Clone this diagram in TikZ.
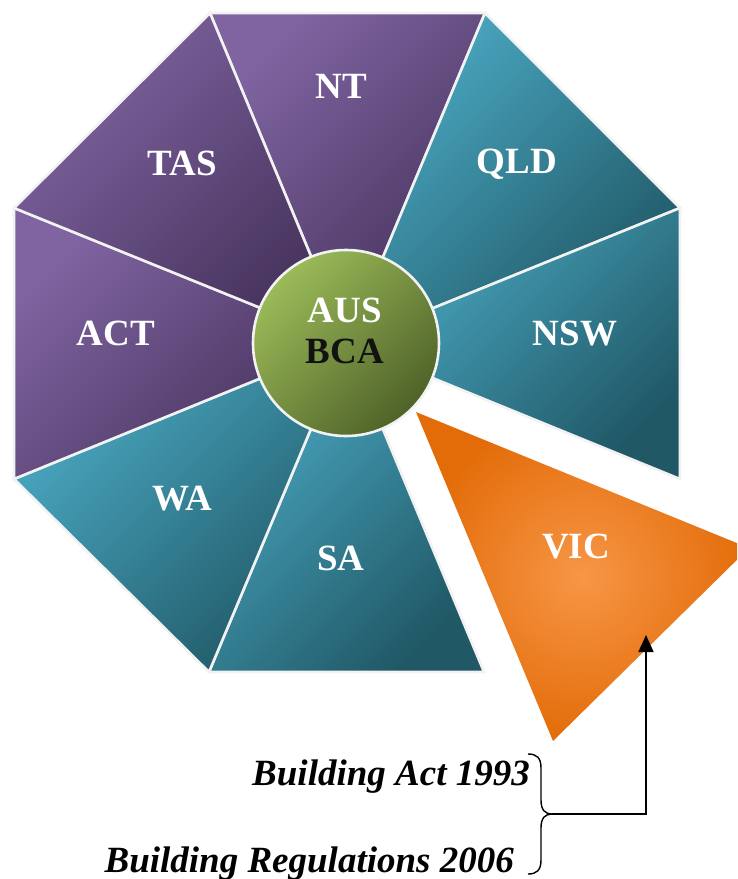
\documentclass[tikz,border=0pt]{standalone}
\usepackage{fontspec}
\setmainfont{Liberation Serif}
\usetikzlibrary{arrows.meta}
\definecolor{purpleL}{HTML}{8064A2}
\definecolor{purpleD}{HTML}{45325A}
\definecolor{aquaL}{HTML}{4BAAC4}
\definecolor{aquaD}{HTML}{205866}
\definecolor{oliveL}{HTML}{9BBB59}
\definecolor{oliveD}{HTML}{4F6228}
\definecolor{orangeL}{HTML}{F79646}
\definecolor{orangeD}{HTML}{E36C09}
\definecolor{sepline}{HTML}{F2F2F2}
\tikzset{
  seg/.style={draw=sepline, line width=2.6pt, line join=miter},
  purpleseg/.style={seg, top color=purpleL, bottom color=purpleD, shading angle=45},
  aquaseg/.style={seg, top color=aquaL, bottom color=aquaD, shading angle=45},
  lbl/.style={anchor=base, inner sep=0pt, text=white,
    font=\fontsize{37}{40}\selectfont\bfseries},
  lawtext/.style={anchor=base east, inner sep=0pt, text=black,
    font=\fontsize{37}{40}\selectfont\bfseries\itshape},
  link/.style={line width=1.8pt, black}
}
\begin{document}
\begin{tikzpicture}[x=1pt, y=-1pt]
  \useasboundingbox (0,0) rectangle (737,879);
  \clip (0,0) rectangle (737,879);

  % octagon corners and hub centre
  \coordinate (O) at (347,343);
  \coordinate (A) at (210,13);
  \coordinate (B) at (485,13);
  \coordinate (C) at (680,208);
  \coordinate (D) at (680,479);
  \coordinate (E) at (484,672);
  \coordinate (F) at (209,672);
  \coordinate (G) at (14,479);
  \coordinate (H) at (14,208);

  % the eight state wedges
  \path[purpleseg] (O) -- (A) -- (B) -- cycle;
  \path[aquaseg]   (O) -- (B) -- (C) -- cycle;
  \path[aquaseg]   (O) -- (C) -- (D) -- cycle;
  \path[aquaseg]   (O) -- (E) -- (F) -- cycle;
  \path[aquaseg]   (O) -- (F) -- (G) -- cycle;
  \path[purpleseg] (O) -- (G) -- (H) -- cycle;
  \path[purpleseg] (O) -- (H) -- (A) -- cycle;

  % Victoria, pulled out of the octagon
  \coordinate (V1) at (416,412);
  \coordinate (V2) at (749,548);
  \coordinate (V3) at (553,741);
  \shade[inner color=orangeL, outer color=orangeD] (V1) -- (V2) -- (V3) -- cycle;

  % central hub
  \node[circle, minimum size=186pt, inner sep=0pt, draw=sepline, line width=2.6pt,
        top color=oliveL, bottom color=oliveD, shading angle=45] (hub) at (346,343) {};
  \node[lbl] (aus) at (345,322) {AUS};
  \node[lbl, text=black!93] (bca) at (345,363) {BCA};

  % state names
  \node[lbl] (nt)  at (341,98)  {NT};
  \node[lbl] (qld) at (517,173) {QLD};
  \node[lbl] (nsw) at (575,345) {NSW};
  \node[lbl] (vic) at (576,558) {VIC};
  \node[lbl] (sa)  at (341,570) {SA};
  \node[lbl] (wa)  at (182,510) {WA};
  \node[lbl] (act) at (116,345) {ACT};
  \node[lbl] (tas) at (182,175) {TAS};

  % Victorian legislation
  \node[lawtext] (act93) at (530,785) {Building Act 1993};
  \node[lawtext] (reg06) at (514,872) {Building Regulations 2006};

  % brace grouping both acts
  \coordinate (btop) at (528,754);
  \coordinate (btip) at (552,814);
  \coordinate (bbot) at (528,874);
  \draw[link, line width=1.4pt]
    (btop) .. controls (537,754) and (541,758) .. (541,768)
    -- (541,800) .. controls (541,810) and (545,814) .. (btip)
    .. controls (545,814) and (541,818) .. (541,828)
    -- (541,860) .. controls (541,870) and (537,874) .. (bbot);

  % arrow up into the Victoria wedge
  \coordinate (bend) at (646,814);
  \coordinate (vicin) at (646,635);
  \draw[link, -{Triangle[length=17pt, width=15pt]}] (btip) -- (bend) -- (vicin);
\end{tikzpicture}
\end{document}
